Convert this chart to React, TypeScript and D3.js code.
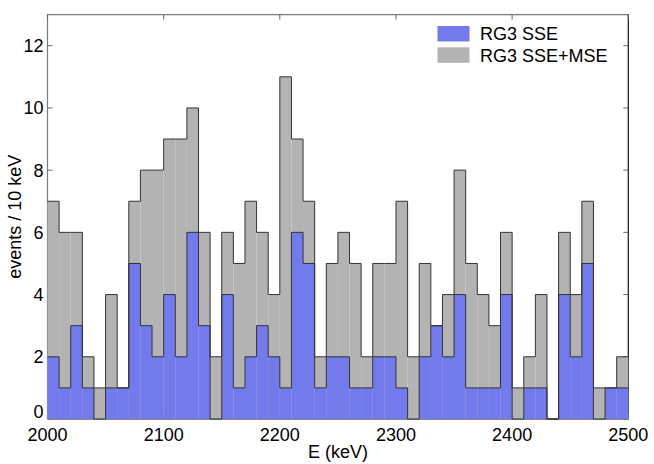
import * as d3 from "d3";
import * as React from "react";

// bins of 10 keV from 2000 to 2500
const binStart = 2000;
const binWidth = 10;

// RG3 SSE+MSE (total) counts per bin
const totalCounts = [
  7, 6, 6, 2, 1, 4, 1, 7, 8, 8, 9, 9, 10, 6, 2, 6, 5, 7, 6, 4, 11, 9, 7, 2, 5,
  6, 5, 2, 5, 5, 7, 2, 5, 3, 4, 8, 5, 4, 3, 6, 1, 2, 4, 0, 6, 4, 7, 1, 1, 2,
];

// RG3 SSE counts per bin
const sseCounts = [
  2, 1, 3, 1, 0, 1, 1, 5, 3, 2, 4, 2, 6, 3, 0, 4, 1, 2, 3, 2, 1, 6, 5, 1, 2,
  2, 1, 1, 2, 2, 1, 0, 2, 3, 2, 4, 1, 1, 1, 4, 0, 1, 1, 0, 4, 2, 5, 0, 1, 1,
];

const xTicks = [2000, 2100, 2200, 2300, 2400, 2500];
const yTicks = [0, 2, 4, 6, 8, 10, 12];

const legendItems = [
  { name: "RG3 SSE", color: "#737bec" },
  { name: "RG3 SSE+MSE", color: "#b3b3b3" },
];

const font = '"Liberation Sans", Arial, Helvetica, sans-serif';

interface Bin {
  x0: number;
  x1: number;
  v: number;
}

function toBins(counts: number[]): Bin[] {
  return counts.map((v, i) => ({
    x0: binStart + i * binWidth,
    x1: binStart + (i + 1) * binWidth,
    v,
  }));
}

function drawChart(svgRef: React.RefObject<SVGSVGElement | null>) {
  const svg = d3.select(svgRef.current);
  svg.selectAll("*").remove();

  const width = 654;
  const height = 464;
  const left = 47.5;
  const right = 628.3;
  const top = 14.6;
  const bottom = 419;
  const tickLen = 5;

  const xScale = d3.scaleLinear().domain([2000, 2500]).range([left, right]);
  const yScale = d3.scaleLinear().domain([0, 13]).range([bottom, top]);

  svg.attr("width", width).attr("height", height);

  // frame + inward ticks (sits under the histograms)
  const frame = svg.append("g");
  frame
    .append("path")
    .attr("d", `M${left},${bottom}V${top}H${right}`)
    .attr("fill", "none")
    .attr("stroke", "#7a7a7a")
    .attr("stroke-width", 1.2);
  frame
    .append("path")
    .attr("d", `M${right},${top}V${bottom}H${left}`)
    .attr("fill", "none")
    .attr("stroke", "#111")
    .attr("stroke-width", 1.2);

  xTicks.forEach((t) => {
    const x = xScale(t);
    frame
      .append("line")
      .attr("x1", x)
      .attr("x2", x)
      .attr("y1", top)
      .attr("y2", top + tickLen)
      .attr("stroke", "#666");
    frame
      .append("line")
      .attr("x1", x)
      .attr("x2", x)
      .attr("y1", bottom)
      .attr("y2", bottom - tickLen)
      .attr("stroke", "#666");
  });
  yTicks.forEach((t) => {
    const y = yScale(t);
    frame
      .append("line")
      .attr("x1", left)
      .attr("x2", left + tickLen)
      .attr("y1", y)
      .attr("y2", y)
      .attr("stroke", "#666");
    frame
      .append("line")
      .attr("x1", right)
      .attr("x2", right - tickLen)
      .attr("y1", y)
      .attr("y2", y)
      .attr("stroke", "#666");
  });

  const totalBins = toBins(totalCounts);
  const sseBins = toBins(sseCounts);

  const stepLine = d3
    .line<[number, number]>()
    .curve(d3.curveStepAfter)
    .x((d) => xScale(d[0]))
    .y((d) => yScale(d[1]));

  const stepPoints = (bins: Bin[]): [number, number][] => [
    ...bins.map((b) => [b.x0, b.v] as [number, number]),
    [bins[bins.length - 1].x1, bins[bins.length - 1].v],
  ];

  // filled bars, one per bin
  [
    { bins: totalBins, color: legendItems[1].color },
    { bins: sseBins, color: legendItems[0].color },
  ].forEach((s) => {
    svg
      .append("g")
      .selectAll("rect")
      .data(s.bins.filter((b) => b.v > 0))
      .enter()
      .append("rect")
      .attr("x", (b) => xScale(b.x0))
      .attr("width", (b) => xScale(b.x1) - xScale(b.x0))
      .attr("y", (b) => yScale(b.v))
      .attr("height", (b) => yScale(0) - yScale(b.v))
      .attr("fill", s.color);
  });

  // step outlines
  [totalBins, sseBins].forEach((bins) => {
    svg
      .append("path")
      .attr("d", stepLine(stepPoints(bins)))
      .attr("fill", "none")
      .attr("stroke", "#333")
      .attr("stroke-width", 1);
  });

  // tick labels
  const labels = svg
    .append("g")
    .attr("font-family", font)
    .attr("font-size", 18)
    .attr("fill", "#000");
  xTicks.forEach((t) => {
    labels
      .append("text")
      .attr("x", xScale(t))
      .attr("y", 440.5)
      .attr("text-anchor", "middle")
      .text(t);
  });
  yTicks.forEach((t) => {
    labels
      .append("text")
      .attr("x", left - 4)
      .attr("y", yScale(t) + (t === 0 ? -1.5 : 6.5))
      .attr("text-anchor", "end")
      .text(t);
  });

  // axis titles
  labels
    .append("text")
    .attr("x", (left + right) / 2)
    .attr("y", 458)
    .attr("text-anchor", "middle")
    .text("E (keV)");
  labels
    .append("text")
    .attr("transform", `translate(20.5, ${(top + bottom) / 2}) rotate(-90)`)
    .attr("text-anchor", "middle")
    .text("events / 10 keV");

  // legend
  const legend = svg.append("g").attr("font-family", font).attr("font-size", 18);
  legendItems.forEach((item, i) => {
    const y = 26 + i * 21.3;
    legend
      .append("rect")
      .attr("x", 437.5)
      .attr("y", y)
      .attr("width", 32)
      .attr("height", 15.5)
      .attr("fill", item.color);
    legend
      .append("text")
      .attr("x", 480)
      .attr("y", y + 14.2)
      .text(item.name);
  });
}

export default function App() {
  const svg = React.useRef<SVGSVGElement>(null);

  React.useEffect(() => {
    drawChart(svg);
  }, []);

  return (
    <div style={{ position: "absolute", left: 0, top: 0 }}>
      <svg ref={svg} style={{ display: "block" }} />
    </div>
  );
}
